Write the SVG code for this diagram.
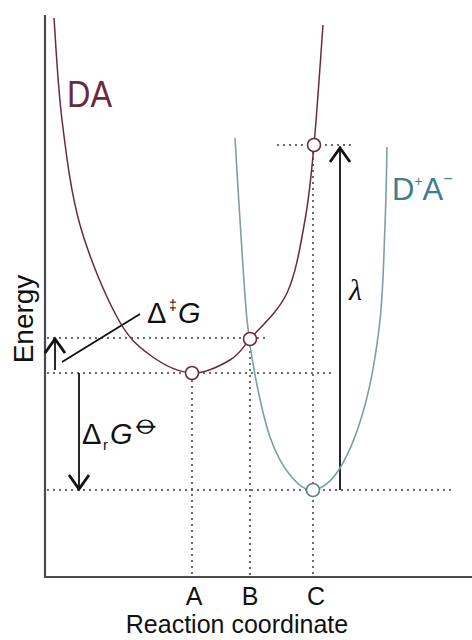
<svg xmlns="http://www.w3.org/2000/svg" width="472" height="640" viewBox="0 0 472 640">
<defs>
<style>
.axis{stroke:#4a4a4a;stroke-width:2.2;fill:none}
.dot{stroke:#3a3a3a;stroke-width:2;stroke-dasharray:0 6;stroke-linecap:round;fill:none}
.da{stroke:#6b2a3c;stroke-width:1.5;fill:none}
.dpa{stroke:#7e9ea8;stroke-width:1.6;fill:none}
.arr{stroke:#111;stroke-width:1.8;fill:none;marker-end:url(#head)}
.pt-da{fill:#fff;stroke:#6b2a3c;stroke-width:1.6}
.pt-dpa{fill:#fff;stroke:#5f7f8a;stroke-width:1.6}
.t{font-family:"Liberation Sans",Arial,sans-serif;fill:#111}
.lab{font-size:25px;text-anchor:middle}
</style>
<marker id="head" viewBox="-18 -12 20 24" refX="0" refY="0" markerWidth="20" markerHeight="24" markerUnits="userSpaceOnUse" orient="auto">
<path d="M-15,-10 L-1,0 L-15,10" fill="none" stroke="#111" stroke-width="2.8" stroke-linejoin="miter"/>
</marker>
</defs>
<rect width="472" height="640" fill="#fff"/>

<g id="axes">
<path class="axis" d="M45,15 V577 H472"/>
</g>

<g id="connectors">
<path class="dot" d="M278,145 H356"/>
<path class="dot" d="M48,338 H270"/>
<path class="dot" d="M48,373 H333"/>
<path class="dot" d="M48,490 H456"/>
<path class="dot" d="M192,381 V577"/>
<path class="dot" d="M250,346 V577"/>
<path class="dot" d="M313,153 V577"/>
<path class="arr" d="M55,370 V338"/>
<path class="arr" d="M79,373 V490"/>
<path class="arr" d="M340,490 V147"/>
<path stroke="#111" stroke-width="1.8" fill="none" d="M62,362 L140,314"/>
</g>

<g id="curve-DA">
<path class="da" d="M54,18 C55.3,35 57.7,85.5 62,120 C66.3,154.5 70.8,192.2 80,225 C89.2,257.8 105.3,295.3 117,317 C128.7,338.7 137.5,345.7 150,355 C162.5,364.3 178.7,372.2 192,373 C205.3,373.8 220.3,365.7 230,360 C239.7,354.3 240.5,350.2 250,339 C259.5,327.8 277.8,312.8 287,293 C296.2,273.2 300.5,244.7 305,220 C309.5,195.3 311,177.5 314,145 C317,112.5 321.5,45 323,25"/>
<text class="t" x="67" y="107" font-size="36" textLength="45" lengthAdjust="spacingAndGlyphs" style="fill:#6b2a3c">DA</text>
</g>

<g id="curve-DpAm">
<path class="dpa" d="M235,138 C235.8,151.7 238,189.7 240,220 C242,250.3 244.5,294.2 247,320 C249.5,345.8 251.2,355.5 255,375 C258.8,394.5 264.2,420.3 270,437 C275.8,453.7 282.8,466.2 290,475 C297.2,483.8 304.7,491.2 313,490 C321.3,488.8 331.3,482.2 340,468 C348.7,453.8 358.3,429.7 365,405 C371.7,380.3 376.7,350 380,320 C383.3,290 383.8,253.8 385,225 C386.2,196.2 386.7,160 387,147"/>
<text class="t" x="392" y="200" font-size="31" style="fill:#3f7e90">D<tspan font-size="14" dy="-14">+</tspan><tspan dy="14" font-size="31">A</tspan><tspan font-size="16" dy="-16">−</tspan></text>
</g>

<g id="point-A"><circle class="pt-da" cx="192" cy="373" r="6.5"/></g>
<g id="point-B"><circle class="pt-da" cx="250" cy="339" r="6.5"/></g>
<g id="point-C"><circle class="pt-da" cx="314" cy="145" r="6.5"/></g>
<g id="point-C-low"><circle class="pt-dpa" cx="313" cy="490" r="6.5"/></g>

<g id="label-activation">
<text class="t" font-size="29"><tspan x="147" y="323">Δ</tspan><tspan x="169" y="310" font-size="14">‡</tspan><tspan x="178" y="323" font-style="italic">G</tspan></text>
</g>
<g id="label-reaction">
<text class="t" font-size="29"><tspan x="82" y="444">Δ</tspan><tspan x="103" y="450" font-size="15">r</tspan><tspan x="110" y="444" font-style="italic">G</tspan><tspan x="132" y="434" font-size="34" style="font-family:'DejaVu Sans',sans-serif">⦵</tspan></text>
</g>
<g id="label-lambda">
<text x="349" y="300" font-size="30" font-style="italic" style="font-family:'Liberation Serif',serif;fill:#111">λ</text>
</g>

<g id="axis-labels">
<text class="t" x="0" y="0" font-size="28" text-anchor="middle" transform="translate(33,319) rotate(-90)">Energy</text>
<text class="t lab" x="194" y="605">A</text>
<text class="t lab" x="250" y="605">B</text>
<text class="t lab" x="316" y="605">C</text>
<text class="t" x="237" y="633" font-size="25" text-anchor="middle">Reaction coordinate</text>
</g>
</svg>
